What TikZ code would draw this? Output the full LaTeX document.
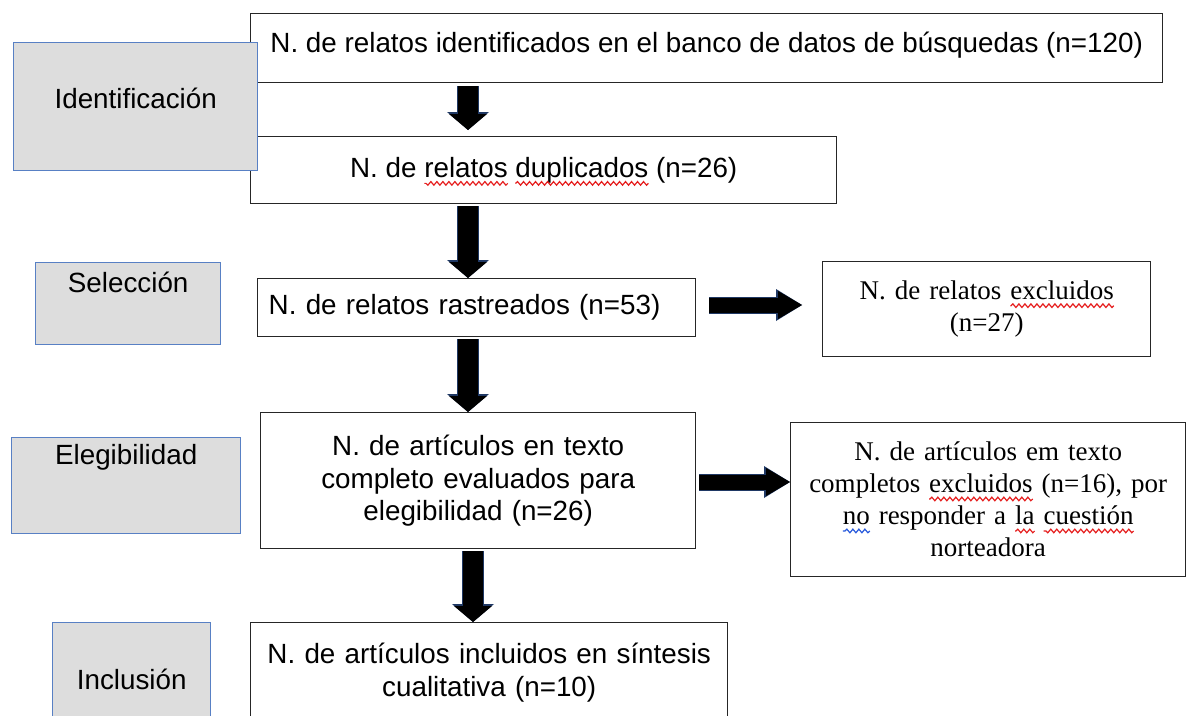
\documentclass[tikz,border=0pt]{standalone}
\usepackage{fontspec}
\setmainfont{Liberation Sans}
\newfontfamily\timesfont{Liberation Serif}
\usetikzlibrary{arrows.meta,decorations.pathmorphing}
\definecolor{phasegray}{RGB}{221,221,221}
\definecolor{phaseblue}{RGB}{88,128,196}
\definecolor{arrownavy}{RGB}{31,56,100}
\definecolor{wavyred}{RGB}{230,30,30}
\definecolor{wavyblue}{RGB}{40,90,220}
\newlength\wavylen
\newcommand{\wavy}[2][wavyred]{\settowidth{\wavylen}{#2}#2\tikz[overlay]\draw[#1,line width=1.2pt,decorate,decoration={snake,amplitude=1.8pt,segment length=6pt}] (0pt,-6pt)--(-\wavylen,-6pt);}
\tikzset{
  flowbox/.style={draw=black!85,line width=1.4pt,fill=white,inner sep=0pt,anchor=north west,align=center,font=\fontsize{27.8}{32.5}\selectfont},
  serifbox/.style={flowbox,font=\timesfont\fontsize{27}{32}\selectfont},
  phasebox/.style={draw=phaseblue,fill=phasegray,line width=1.4pt,inner sep=0pt,anchor=north west,font=\fontsize{27.8}{32.5}\selectfont},
  downarrow/.style={line width=20pt,-{Triangle[length=16pt,width=38pt,line width=0pt]},preaction={draw=arrownavy,line width=22pt,-{Triangle[length=18pt,width=42pt,line width=0pt]}}},
  rightarrow/.style={line width=15pt,-{Triangle[length=24pt,width=28pt,line width=0pt]},preaction={draw=arrownavy,line width=17pt,-{Triangle[length=26pt,width=32pt,line width=0pt]}}}
}
\begin{document}
\begin{tikzpicture}[x=1pt,y=-1pt]
\clip (0,0) rectangle (1190,715);
\node[flowbox,minimum width=912pt,text height=39pt,text depth=30pt] (found) at (250,13) {N. de relatos identificados en el banco de datos de búsquedas (n=120)};
\node[flowbox,minimum width=586pt,minimum height=67pt] (dupl) at (250,136) {N. de \wavy{relatos} \wavy{duplicados} (n=26)};
\node[flowbox,text width=416pt,inner xsep=11pt,minimum height=58pt,align=left] (screen) at (257,278) {N. de relatos rastreados (n=53)};
\node[serifbox,text width=328pt,minimum height=95pt] (excl) at (822,261) {N. de relatos \wavy{excluidos}\\(n=27)};
\node[flowbox,text width=435pt,minimum height=136pt] (full) at (260,412) {N. de artículos en texto\\completo evaluados para\\elegibilidad (n=26)};
\node[serifbox,text width=395pt,minimum height=154pt] (fullex) at (790,422) {N. de artículos em texto\\completos \wavy{excluidos} (n=16), por\\\wavy[wavyblue]{no} responder a \wavy{la} \wavy{cuestión}\\norteadora};
\node[flowbox,text width=477pt,minimum height=100pt] (incl) at (250,622) {N. de artículos incluidos en síntesis\\cualitativa (n=10)};

\node[phasebox,minimum width=244pt,text height=66pt,text depth=62pt] (idph) at (13,42) {Identificación};
\node[phasebox,minimum width=185pt,text height=30pt,text depth=52pt] (selph) at (35,262) {Selección};
\node[phasebox,minimum width=229pt,text height=27pt,text depth=69pt] (elph) at (11,437) {Elegibilidad};
\node[phasebox,minimum width=158pt,text height=67pt,text depth=43pt] (inph) at (52,622) {Inclusión};

\coordinate (axa) at (468,0);
\coordinate (axb) at (473,0);
\coordinate (rowa) at (0,305);
\coordinate (rowb) at (0,482);
\draw[downarrow,shorten <=3pt,shorten >=6pt] (found.south -| axa) -- (dupl.north -| axa);
\draw[downarrow,shorten <=2pt] (dupl.south -| axa) -- (screen.north -| axa);
\draw[downarrow,shorten <=2pt] (screen.south -| axa) -- (full.north -| axa);
\draw[downarrow,shorten <=2pt] (full.south -| axb) -- (incl.north -| axb);
\draw[rightarrow,shorten <=13pt,shorten >=20pt] (screen.east |- rowa) -- (excl.west |- rowa);
\draw[rightarrow,shorten <=3pt] (full.east |- rowb) -- (fullex.west |- rowb);
\end{tikzpicture}
\end{document}
